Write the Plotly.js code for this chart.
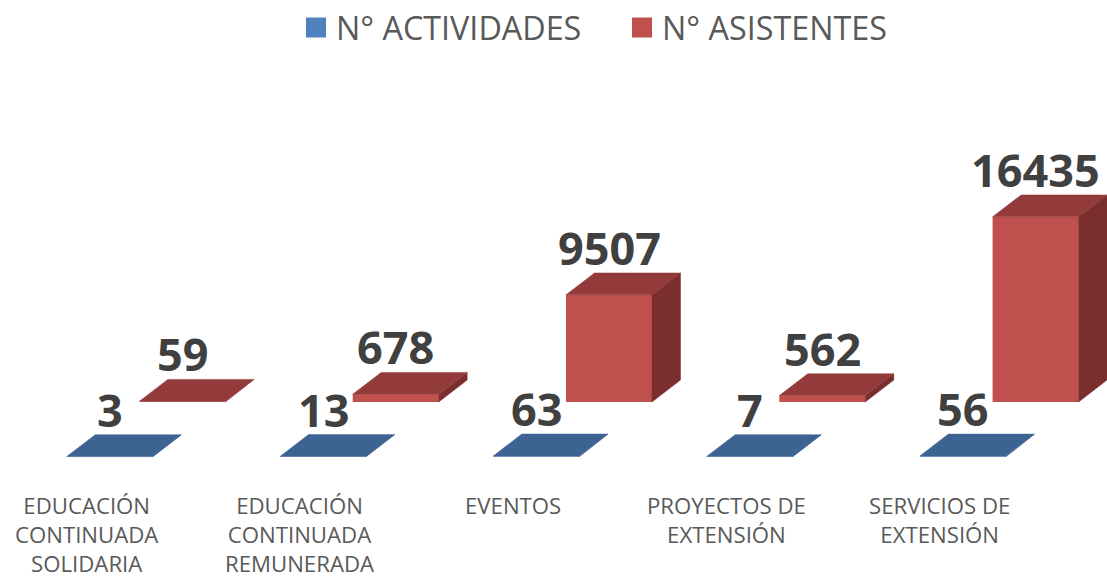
<!DOCTYPE html>
<html>
<head>
<meta charset="utf-8">
<script src="https://cdn.plot.ly/plotly-3.0.1.min.js"></script>
<style>
  html, body { margin: 0; padding: 0; background: #ffffff; }
  #chart { width: 1107px; height: 580px; }
</style>
</head>
<body>
<div id="chart"></div>
<script>
// ---- Data ----
const categories = [
  "EDUCACIÓN<br>CONTINUADA<br>SOLIDARIA",
  "EDUCACIÓN<br>CONTINUADA<br>REMUNERADA",
  "EVENTOS",
  "PROYECTOS DE<br>EXTENSIÓN",
  "SERVICIOS DE<br>EXTENSIÓN"
];
const actividades = [3, 13, 63, 7, 56];
const asistentes = [59, 678, 9507, 562, 16435];
const seriesNames = ["N° ACTIVIDADES", "N° ASISTENTES"];

// ---- Layout geometry (pixels) ----
const W = 1107, H = 580;
const catStep = 213.3;          // px between categories
const blueCenter0 = 109.7;      // px centre of first front (blue) bar
const redOffsetX = 72.7;        // px shift of back (red) row
const blueFloor = 456, redFloor = 401; // px floors
const pxPerUnit = 0.01132;      // value -> px
const barWpx = 86, depthXpx = 28.5, depthYpx = 22;

const k = 1 / pxPerUnit;        // units per px
const barW = barWpx / catStep;
const dX = depthXpx / catStep;
const dY = depthYpx * k;
const xs = categories.map((_, i) => i);

function xRange(centerPx) { const a = -centerPx / catStep; return [a, a + W / catStep]; }
function yRange(floorPx) { return [-(H - floorPx) * k, floorPx * k]; }

const colors = {
  blueFront: "#4F81BD", blueTop: "#3C6392", blueSide: "#2F4F75",
  redFront: "#C0504D", redTop: "#923B3A", redSide: "#7A2E2D"
};

function faces(values, xa, ya, front, top, side) {
  const tx = [], ty = [], sx = [], sy = [];
  values.forEach((v, i) => {
    const l = xs[i] - barW / 2, r = xs[i] + barW / 2;
    tx.push(l, r, r + dX, l + dX, l, null);
    ty.push(v, v, v + dY, v + dY, v, null);
    sx.push(r, r + dX, r + dX, r, r, null);
    sy.push(0, dY, v + dY, v, 0, null);
  });
  return [
    { type: "bar", x: xs, y: values, width: barW, xaxis: xa, yaxis: ya,
      marker: { color: front, line: { width: 0 } }, showlegend: false, hoverinfo: "skip" },
    { type: "scatter", mode: "lines", x: sx, y: sy, fill: "toself", fillcolor: side,
      line: { width: 0.5, color: side }, xaxis: xa, yaxis: ya, showlegend: false, hoverinfo: "skip" },
    { type: "scatter", mode: "lines", x: tx, y: ty, fill: "toself", fillcolor: top,
      line: { width: 0.5, color: top }, xaxis: xa, yaxis: ya, showlegend: false, hoverinfo: "skip" }
  ];
}

const traces = [
  ...faces(asistentes, "x", "y", colors.redFront, colors.redTop, colors.redSide),
  ...faces(actividades, "x2", "y2", colors.blueFront, colors.blueTop, colors.blueSide),
  { type: "scatter", mode: "markers", x: [null], y: [null], name: seriesNames[0],
    marker: { symbol: "square", size: 16, color: colors.blueFront, line: { width: 4, color: colors.blueFront } },
    xaxis: "x2", yaxis: "y2" },
  { type: "scatter", mode: "markers", x: [null], y: [null], name: seriesNames[1],
    marker: { symbol: "square", size: 16, color: colors.redFront, line: { width: 4, color: colors.redFront } },
    xaxis: "x2", yaxis: "y2" }
];

const labelFont = { family: "Open Sans, sans-serif", size: 45, color: "#404040", weight: "bold" };
const annotations = [];
asistentes.forEach((v, i) => annotations.push({
  x: xs[i], y: v + dY, xref: "x", yref: "y", text: String(v), showarrow: false,
  yanchor: "bottom", yshift: -7, font: labelFont
}));
actividades.forEach((v, i) => annotations.push({
  x: xs[i], y: v + dY, xref: "x2", yref: "y2", text: String(v), showarrow: false,
  yanchor: "bottom", yshift: -7, font: labelFont
}));
categories.forEach((c, i) => annotations.push({
  x: xs[i], xref: "x2", y: 1 - 489 / H, yref: "paper", text: c, showarrow: false,
  xanchor: "center", yanchor: "top", xshift: -23, align: "center", borderpad: 0,
  font: { family: "Open Sans, sans-serif", size: 22.2, color: "#595959" }
}));

const hidden = { visible: false, showgrid: false, zeroline: false, fixedrange: true };
const layout = {
  width: W, height: H,
  margin: { l: 0, r: 0, t: 0, b: 0 },
  paper_bgcolor: "#ffffff", plot_bgcolor: "rgba(0,0,0,0)",
  xaxis: { ...hidden, range: xRange(blueCenter0 + redOffsetX) },
  yaxis: { ...hidden, range: yRange(redFloor) },
  xaxis2: { ...hidden, range: xRange(blueCenter0), overlaying: "x" },
  yaxis2: { ...hidden, range: yRange(blueFloor), overlaying: "y" },
  showlegend: true,
  legend: {
    orientation: "h", x: 296 / W, xanchor: "left", y: 1 + 3 / H, yanchor: "top",
    entrywidth: 281, entrywidthmode: "pixels",
    font: { family: "Open Sans, sans-serif", size: 32.3, color: "#595959" },
    bgcolor: "rgba(0,0,0,0)", itemclick: false, itemdoubleclick: false
  },
  annotations: annotations
};

Plotly.newPlot("chart", traces, layout, { displayModeBar: false, staticPlot: true });
</script>
</body>
</html>
